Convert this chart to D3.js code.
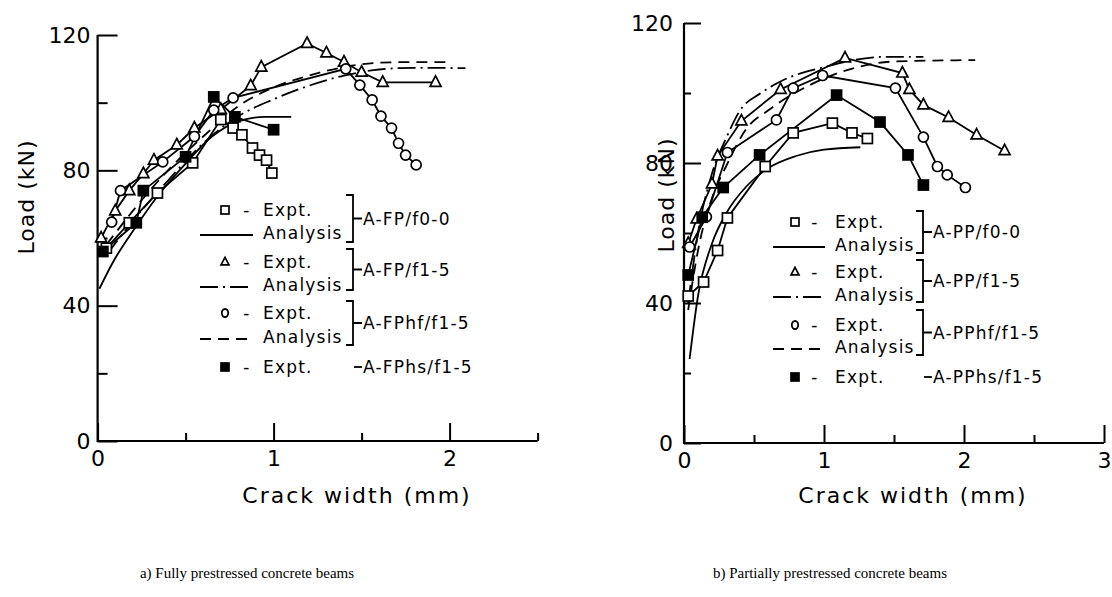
<!DOCTYPE html>
<html>
<head>
<meta charset="utf-8">
<script src="https://cdn.jsdelivr.net/npm/d3@7"></script>
<style>
  body { margin: 0; background: #fff; }
  svg text { font-family: "DejaVu Sans", sans-serif; fill: #000; }
  .cap { font-family: "Liberation Serif", "Times New Roman", serif; }
</style>
</head>
<body>
<svg id="chart" width="1112" height="597"></svg>
<script>
// ---- Data: [crack width (mm), load (kN)] ----
// (a) Fully prestressed beams
const fp00Expt = [[0.05,57],[0.18,64.5],[0.34,73.3],[0.54,82.2],[0.7,95],[0.77,92.5],[0.82,90.5],[0.88,86.6],[0.92,84.5],[0.96,83],[0.99,79.2]];
const fp00Analysis = [[0.01,45],[0.1,54],[0.2,62],[0.35,73],[0.5,82],[0.65,90],[0.8,94.5],[0.95,95.8],[1.1,95.8]];
const fp15Expt = [[0.02,60],[0.1,68],[0.18,74],[0.26,79],[0.32,83],[0.45,87.5],[0.55,92.5],[0.7,98],[0.87,105],[0.93,110.5],[1.19,117.5],[1.3,114.7],[1.4,112],[1.5,109],[1.62,106],[1.92,106]];
const fp15Analysis = [[0.05,55],[0.2,65],[0.4,77],[0.6,88],[0.8,96],[1.0,101],[1.2,105],[1.4,108],[1.6,109.8],[1.8,110.3],[2.09,110.2]];
const fphfExpt = [[0.08,64.7],[0.13,74],[0.37,82.5],[0.55,90],[0.66,97.8],[0.77,101.4],[1.41,110],[1.49,105.2],[1.56,100.8],[1.61,96],[1.67,92.5],[1.71,88],[1.75,84.5],[1.81,81.6]];
const fphfAnalysis = [[0.05,58],[0.2,68],[0.4,80],[0.6,90],[0.8,99],[1.0,104.5],[1.2,108],[1.4,110.5],[1.6,111.8],[1.8,112],[2.0,112]];
const fphsExpt = [[0.03,56],[0.22,64.5],[0.26,74],[0.5,84],[0.66,101.7],[0.78,95.8],[1.0,92]];

// (b) Partially prestressed beams
const pp00Expt = [[0.03,42],[0.14,46],[0.24,55],[0.31,64.3],[0.58,79],[0.78,88.6],[1.06,91.4],[1.2,88.6],[1.31,87]];
const pp00Analysis = [[0.04,24],[0.1,42],[0.2,57],[0.3,65.5],[0.45,73.5],[0.6,78.5],[0.8,82],[1.0,83.8],[1.26,84.5]];
const pp15Expt = [[0.03,57],[0.09,64],[0.2,74],[0.24,82],[0.41,92],[0.69,101],[1.15,110],[1.56,105.7],[1.61,101],[1.71,96.6],[1.89,93],[2.09,88],[2.29,83.5]];
const pp15Analysis = [[0.03,40],[0.1,60],[0.2,77],[0.3,87],[0.4,95],[0.55,100],[0.71,103.7],[1.0,107.4],[1.42,110.3],[1.71,110.3]];
const pphfExpt = [[0.04,56],[0.16,64.6],[0.31,83],[0.66,92.3],[0.78,101.4],[0.99,105],[1.51,101.4],[1.71,87.4],[1.81,79],[1.88,76.6],[2.01,73]];
const pphfAnalysis = [[0.03,38],[0.1,55],[0.2,70],[0.3,79],[0.45,90],[0.6,95],[0.9,102.3],[1.24,107.4],[1.5,109],[2.08,109.4]];
const pphsExpt = [[0.03,48],[0.13,64.5],[0.28,73],[0.54,82.3],[1.09,99.4],[1.4,91.7],[1.6,82.3],[1.71,73.7]];

// Axis ticks and labels
const yMajor = [0, 40, 80, 120];
const yMinor = [20, 60, 100];
const xMajorA = [0, 1, 2];
const xMinorA = [0.5, 1.5, 2.5];
const xMajorB = [0, 1, 2, 3];
const xMinorB = [0.5, 1.5, 2.5];
const legendNamesA = ["A-FP/f0-0", "A-FP/f1-5", "A-FPhf/f1-5", "A-FPhs/f1-5"];
const legendNamesB = ["A-PP/f0-0", "A-PP/f1-5", "A-PPhf/f1-5", "A-PPhs/f1-5"];
const captions = ["a) Fully prestressed concrete beams", "b) Partially prestressed concrete beams"];

const svg = d3.select("#chart");

const dashStyles = { solid: null, dashdot: "18,5,2,5", dashed: "11,7" };

function marker(g, kind, x, y, s) {
  if (kind === "circle") {
    g.append("circle").attr("cx", x).attr("cy", y).attr("r", s / 2)
      .attr("fill", "#fff").attr("stroke", "#000").attr("stroke-width", 1.7);
  } else if (kind === "square" || kind === "filled") {
    g.append("rect").attr("x", x - s / 2).attr("y", y - s / 2).attr("width", s).attr("height", s)
      .attr("fill", kind === "filled" ? "#000" : "#fff").attr("stroke", "#000").attr("stroke-width", 1.7);
  } else if (kind === "triangle") {
    const h = s * 0.95;
    g.append("path")
      .attr("d", `M${x},${y - h * 0.62}L${x + s / 2},${y + h * 0.38}L${x - s / 2},${y + h * 0.38}Z`)
      .attr("fill", "#fff").attr("stroke", "#000").attr("stroke-width", 1.7);
  }
}

function drawPanel(cfg) {
  const x = d3.scaleLinear().domain([0, cfg.xMax]).range([cfg.left, cfg.right]);
  const y = d3.scaleLinear().domain([0, 120]).range([cfg.bottom, cfg.top]);
  const g = svg.append("g");

  // Y axis: major ticks labelled, minor ticks shorter, all pointing inward
  g.append("g").attr("transform", `translate(${cfg.left},0)`)
    .call(d3.axisLeft(y).tickValues(yMinor).tickSizeInner(-cfg.yMinorLen).tickSizeOuter(0).tickFormat(""))
    .call(a => a.select(".domain").remove());
  g.append("g").attr("transform", `translate(${cfg.left},0)`)
    .call(d3.axisLeft(y).tickValues(yMajor).tickSizeInner(-cfg.yMajorLen).tickSizeOuter(0).tickPadding(cfg.yPad).tickFormat(d3.format("d")))
    .call(a => a.select(".domain").remove())
    .call(a => a.selectAll("text").style("font-size", "22px").attr("font-family", null));

  // X axis
  g.append("g").attr("transform", `translate(0,${cfg.bottom})`)
    .call(d3.axisBottom(x).tickValues(cfg.xMinor).tickSizeInner(-8).tickSizeOuter(0).tickFormat(""))
    .call(a => a.select(".domain").remove());
  g.append("g").attr("transform", `translate(0,${cfg.bottom})`)
    .call(d3.axisBottom(x).tickValues(cfg.xMajor).tickSizeInner(-18).tickSizeOuter(0).tickPadding(9).tickFormat(d3.format("d")))
    .call(a => a.select(".domain").remove())
    .call(a => a.selectAll("text").style("font-size", "22px").attr("font-family", null));

  g.selectAll(".tick line").attr("stroke", "#000").attr("stroke-width", 2);

  // Axis lines
  g.append("path")
    .attr("d", `M${cfg.left},${cfg.top}V${cfg.bottom}H${cfg.right}`)
    .attr("fill", "none").attr("stroke", "#000").attr("stroke-width", 2.2);

  // Axis titles
  g.append("text")
    .attr("transform", `translate(${cfg.yTitleX},${cfg.yTitleY}) rotate(-90)`)
    .attr("text-anchor", "middle").attr("dominant-baseline", "central")
    .style("font-size", "22px").style("letter-spacing", "1px")
    .text("Load (kN)");
  g.append("text")
    .attr("x", cfg.xTitleX).attr("y", cfg.xTitleY)
    .attr("text-anchor", "middle").attr("dominant-baseline", "central")
    .style("font-size", "22px").style("letter-spacing", "2px")
    .text("Crack width (mm)");

  // Analysis curves
  const curve = d3.line().x(d => x(d[0])).y(d => y(d[1])).curve(d3.curveMonotoneX);
  cfg.analysis.forEach(s => {
    g.append("path").attr("d", curve(s.data))
      .attr("fill", "none").attr("stroke", "#000").attr("stroke-width", 1.8)
      .attr("stroke-dasharray", dashStyles[s.style]);
  });

  // Experimental series: polyline plus markers
  const poly = d3.line().x(d => x(d[0])).y(d => y(d[1]));
  cfg.expt.forEach(s => {
    g.append("path").attr("d", poly(s.data))
      .attr("fill", "none").attr("stroke", "#000").attr("stroke-width", 1.8);
  });
  cfg.expt.forEach(s => {
    s.data.forEach(d => marker(g, s.kind, x(d[0]), y(d[1]), s.kind === "triangle" ? 11 : 10));
  });

  // Legend
  const L = cfg.legend;
  const lg = svg.append("g").style("font-size", "17px").style("letter-spacing", "1.2px");
  const rowsExpt = ["square", "triangle", "circle", "filled"];
  const rowsLine = ["solid", "dashdot", "dashed"];
  L.exptY.forEach((yy, i) => {
    const kind = rowsExpt[i];
    if (kind === "circle") {
      lg.append("ellipse").attr("cx", L.mx).attr("cy", yy).attr("rx", 3.2).attr("ry", 4)
        .attr("fill", "#fff").attr("stroke", "#000").attr("stroke-width", 1.8);
    } else marker(lg, kind, L.mx, yy, 8);
    lg.append("text").attr("x", L.dashX).attr("y", yy).attr("dominant-baseline", "central")
      .attr("text-anchor", "middle").text("-");
    lg.append("text").attr("x", L.textX).attr("y", yy).attr("dominant-baseline", "central").text("Expt.");
  });
  L.lineY.forEach((yy, i) => {
    lg.append("line").attr("x1", L.lx1).attr("x2", L.lx2).attr("y1", yy + 2).attr("y2", yy + 2)
      .attr("stroke", "#000").attr("stroke-width", 1.8).attr("stroke-dasharray", dashStyles[rowsLine[i]]);
    lg.append("text").attr("x", L.textX).attr("y", yy).attr("dominant-baseline", "central").text("Analysis");
  });
  L.brackets.forEach((b, i) => {
    lg.append("path")
      .attr("d", `M${L.bx - 7},${b[0]}H${L.bx}V${b[1]}H${L.bx - 7}M${L.bx},${(b[0] + b[1]) / 2}H${L.bx + 9}`)
      .attr("fill", "none").attr("stroke", "#000").attr("stroke-width", 1.8);
    lg.append("text").attr("x", L.bx + 10).attr("y", (b[0] + b[1]) / 2)
      .attr("dominant-baseline", "central").text(cfg.names[i]);
  });
  const lastY = L.exptY[3];
  lg.append("line").attr("x1", L.bx + 1).attr("x2", L.bx + 9).attr("y1", lastY).attr("y2", lastY)
    .attr("stroke", "#000").attr("stroke-width", 1.8);
  lg.append("text").attr("x", L.bx + 10).attr("y", lastY).attr("dominant-baseline", "central").text(cfg.names[3]);

  // Caption
  svg.append("text").attr("class", "cap")
    .attr("x", cfg.capX).attr("y", 573).attr("text-anchor", "middle").attr("dominant-baseline", "central")
    .style("font-size", "15px").text(cfg.caption);
}

drawPanel({
  left: 97.6, right: 537.6, xMax: 2.5, top: 35, bottom: 441,
  yMajorLen: 20, yMinorLen: 10, yPad: 7,
  xMajor: xMajorA, xMinor: xMinorA,
  yTitleX: 26, yTitleY: 197, xTitleX: 357, xTitleY: 495,
  analysis: [
    { data: fp00Analysis, style: "solid" },
    { data: fp15Analysis, style: "dashdot" },
    { data: fphfAnalysis, style: "dashed" }
  ],
  expt: [
    { data: fp00Expt, kind: "square" },
    { data: fp15Expt, kind: "triangle" },
    { data: fphfExpt, kind: "circle" },
    { data: fphsExpt, kind: "filled" }
  ],
  legend: {
    mx: 225, dashX: 247, textX: 263, lx1: 200, lx2: 253, bx: 353,
    exptY: [210, 262, 313, 367], lineY: [233, 285, 337],
    brackets: [[195, 242], [249, 290], [301, 345]]
  },
  names: legendNamesA, caption: captions[0], capX: 247
});

drawPanel({
  left: 684, right: 1104, xMax: 3, top: 23, bottom: 443,
  yMajorLen: 17, yMinorLen: 7, yPad: 11,
  xMajor: xMajorB, xMinor: xMinorB,
  yTitleX: 666, yTitleY: 195, xTitleX: 913, xTitleY: 495,
  analysis: [
    { data: pp00Analysis, style: "solid" },
    { data: pp15Analysis, style: "dashdot" },
    { data: pphfAnalysis, style: "dashed" }
  ],
  expt: [
    { data: pp00Expt, kind: "square" },
    { data: pp15Expt, kind: "triangle" },
    { data: pphfExpt, kind: "circle" },
    { data: pphsExpt, kind: "filled" }
  ],
  legend: {
    mx: 795, dashX: 815, textX: 835, lx1: 773, lx2: 825, bx: 923,
    exptY: [222, 272, 325, 377], lineY: [245, 295, 347],
    brackets: [[211, 253], [260, 302], [310, 355]]
  },
  names: legendNamesB, caption: captions[1], capX: 830
});
</script>
</body>
</html>
